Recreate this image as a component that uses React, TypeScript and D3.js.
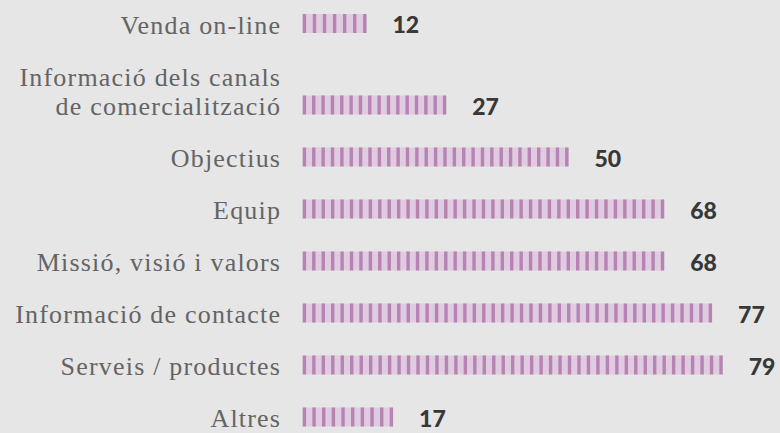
import React from 'react';
import * as d3 from 'd3';

const categories = [
  ['Venda on-line'],
  ['Informació dels canals', 'de comercialització'],
  ['Objectius'],
  ['Equip'],
  ['Missió, visió i valors'],
  ['Informació de contacte'],
  ['Serveis / productes'],
  ['Altres'],
];
const values = [12, 27, 50, 68, 68, 77, 79, 17];

const width = 780;
const height = 433;
const barStart = 302.7;
const barHeight = 19;
const rowPitch = 52;
const lineHeight = 29.5;
const stripeW = 3.4;
const stripePeriod = 9.4;
const labelSpacing = 1.2;

const App = () => {
  const x = d3.scaleLinear().domain([0, 79]).range([barStart, 722.7]);
  // row slot -> y of bar centre; extra label lines push later rows down
  const y = d3.scaleLinear().domain([0, 1]).range([23.5, 23.5 + rowPitch]);

  let extra = 0;
  const rows = categories.map((lines, i) => {
    extra += lines.length - 1;
    return { lines, value: values[i], cy: y(i + (extra * lineHeight) / rowPitch) };
  });

  return (
    <svg
      width={width}
      height={height}
      style={{ position: 'absolute', left: 0, top: 0, background: '#e6e6e6' }}
    >
      {rows.map((r, i) => {
        const w = x(r.value) - x(0);
        const n = Math.round((w - stripeW) / stripePeriod) + 1;
        const p = (w - stripeW) / (n - 1);
        const top = r.cy - barHeight / 2;
        return (
          <g key={i}>
            {r.lines.map((t, j) => (
              <text
                key={j}
                x={280 + labelSpacing}
                y={r.cy + 10 - (r.lines.length - 1 - j) * lineHeight}
                textAnchor="end"
                fontFamily="'Liberation Serif', serif"
                fontSize={26}
                letterSpacing={labelSpacing}
                fill="#646464"
              >
                {t}
              </text>
            ))}
            <rect x={x(0)} y={top} width={w} height={barHeight} fill="#e0cce0" />
            {d3.range(n).map((k) => (
              <rect
                key={k}
                x={x(0) + k * p}
                y={top}
                width={stripeW}
                height={barHeight}
                fill="#b683b3"
              />
            ))}
            <text
              x={x(r.value) + 26}
              y={r.cy + 9.5}
              fontFamily="Lato, sans-serif"
              fontWeight={900}
              fontSize={23}
              fill="#383838"
            >
              {r.value}
            </text>
          </g>
        );
      })}
    </svg>
  );
};

export default App;
